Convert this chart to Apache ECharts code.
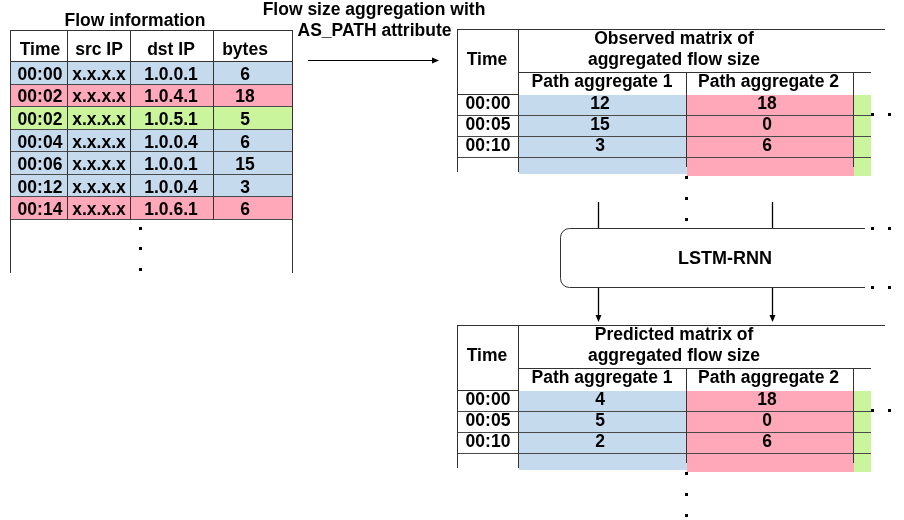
<!DOCTYPE html>
<html><head><meta charset="utf-8">
<script src="https://cdn.jsdelivr.net/npm/echarts@6/dist/echarts.min.js"></script>
<style>html,body{margin:0;padding:0;background:#fff}#c{width:904px;height:520px}</style>
</head><body><div id="c"></div>
<script>
// ---------------- data ----------------
const flowTitle = 'Flow information';
const flowHeaders = ['Time', 'src IP', 'dst IP', 'bytes'];
const flowTimes = ['00:00', '00:02', '00:02', '00:04', '00:06', '00:12', '00:14'];
const flowSrc = ['x.x.x.x', 'x.x.x.x', 'x.x.x.x', 'x.x.x.x', 'x.x.x.x', 'x.x.x.x', 'x.x.x.x'];
const flowDst = ['1.0.0.1', '1.0.4.1', '1.0.5.1', '1.0.0.4', '1.0.0.1', '1.0.0.4', '1.0.6.1'];
const flowBytes = [6, 18, 5, 6, 15, 3, 6];
const flowPathGroup = [1, 2, 3, 1, 1, 1, 2];

const aggTitle = ['Flow size aggregation with', 'AS_PATH attribute'];
const matrixTimeHeader = 'Time';
const matrixTimes = ['00:00', '00:05', '00:10'];
const pathHeaders = ['Path aggregate 1', 'Path aggregate 2'];
const observedTitle = ['Observed matrix of', 'aggregated flow size'];
const observedP1 = [12, 15, 3];
const observedP2 = [18, 0, 6];
const predictedTitle = ['Predicted matrix of', 'aggregated flow size'];
const predictedP1 = [4, 5, 2];
const predictedP2 = [18, 0, 6];
const modelName = 'LSTM-RNN';

// ---------------- styles / layout ----------------
const GROUP_COLORS = {1: '#c6daee', 2: '#ffa8ba', 3: '#caf59c'};
const LINE = '#333';
const ROWLINE = '#4a4a4a';
const FONT = 'bold 17.5px "Liberation Sans", Arial, Helvetica, sans-serif';
const FONT_BIG = 'bold 18px "Liberation Sans", Arial, Helvetica, sans-serif';

const FT = {cols: [10, 67, 130, 213, 292], textX: [40, 99, 171, 245], top: 30, headBottom: 61,
  rowH: 22.57, bottom: 273, headTextY: 50.5, textDy: 14, titleY: 21, titleX: 135, dotX: 140, dots: [228, 248, 269]};
const MX = {left: 457, timeR: 518, c1: 686, c2: 853, c3: 871, topR: 885,
  sub: 43, head: 65, rowH: 21, fillEndA: 144, fillEndB: 146, borderEnd: 143, sepEnd: 138,
  titleX: 674, t1: 10.5, t2: 31, subY: 53.5, timeX: 488, p1X: 600, p2X: 767,
  rdots: [872, 889], rdotY: 85, bdots: [148, 169, 190]};
const OBS_TOP = 29, PRED_TOP = 325;
const BOX = {l: 560, t: 228, b: 287, r: 865, rad: 9, a1: 598, a2: 772, upY: 202, arrowTip: 322};

const px = v => Math.round(v) + 0.5;
function hl(x1, x2, y, c) { return {type: 'line', z: 10, silent: true, shape: {x1: x1, y1: px(y), x2: x2, y2: px(y)}, style: {stroke: c || LINE, lineWidth: 1}}; }
function vl(x, y1, y2, c) { return {type: 'line', z: 10, silent: true, shape: {x1: px(x), y1: y1, x2: px(x), y2: y2}, style: {stroke: c || LINE, lineWidth: 1}}; }
function tx(text, x, y, font) {
  return {type: 'text', z: 11, silent: true, x: x, y: y,
    style: {text: String(text), font: font || FONT, fill: '#000', align: 'center', verticalAlign: 'middle', textAlign: 'center', textVerticalAlign: 'middle'}};
}
function dot(x, y) { return {type: 'rect', z: 11, silent: true, shape: {x: Math.round(x) - 1, y: Math.round(y) - 1, width: 3, height: 3}, style: {fill: '#000'}}; }

// ---------------- decoration (graphic) ----------------
const els = [];
// flow table frame
els.push(tx(flowTitle, FT.titleX, FT.titleY));
els.push(hl(FT.cols[0], FT.cols[4] + 1, FT.top));
els.push(hl(FT.cols[0], FT.cols[4] + 1, FT.headBottom));
els.push(vl(FT.cols[0], FT.top, FT.bottom));
els.push(vl(FT.cols[4], FT.top, FT.bottom));
for (let k = 1; k < 4; k++) els.push(vl(FT.cols[k], FT.top, FT.headBottom));
flowHeaders.forEach((h, k) => els.push(tx(h, FT.textX[k], FT.headTextY)));
FT.dots.forEach(y => els.push(dot(FT.dotX, y)));

// aggregation arrow
els.push(tx(aggTitle[0], 374, 10.5));
els.push(tx(aggTitle[1], 374.5, 31));
els.push({type: 'line', z: 10, silent: true, shape: {x1: 308, y1: 60.5, x2: 434, y2: 60.5}, style: {stroke: '#000', lineWidth: 1}});
els.push({type: 'polygon', z: 10, silent: true, shape: {points: [[439, 60.5], [432, 57.5], [432, 63.5]]}, style: {fill: '#000'}});

function matrixFrame(top, title) {
  els.push(hl(MX.left, MX.topR, top));
  els.push(vl(MX.left, top, top + MX.borderEnd));
  els.push(vl(MX.timeR, top, top + MX.borderEnd));
  els.push(hl(MX.timeR, MX.c3, top + MX.sub));
  els.push(vl(MX.c1, top + MX.sub, top + MX.sepEnd));
  els.push(vl(MX.c2, top + MX.sub, top + MX.sepEnd));
  els.push(hl(MX.left, MX.timeR, top + MX.head));
  els.push(tx(title[0], MX.titleX, top + MX.t1));
  els.push(tx(title[1], MX.titleX, top + MX.t2));
  els.push(tx(matrixTimeHeader, MX.timeX - 1, top + MX.t2));
  els.push(tx(pathHeaders[0], (MX.timeR + MX.c1) / 2, top + MX.subY));
  els.push(tx(pathHeaders[1], (MX.c1 + MX.c2) / 2 - 1, top + MX.subY));
  MX.rdots.forEach(x => els.push(dot(x, top + MX.rdotY)));
  MX.bdots.forEach(y => els.push(dot(MX.c1, top + y)));
}
matrixFrame(OBS_TOP, observedTitle);
matrixFrame(PRED_TOP, predictedTitle);

// LSTM box (open on the right, rounded on the left)
const r = BOX.rad;
const bl = BOX.l + 0.5, bt = BOX.t + 0.5, bb = BOX.b + 0.5;
els.push({type: 'line', z: 10, silent: true, shape: {x1: bl + r, y1: bt, x2: BOX.r, y2: bt}, style: {stroke: LINE, lineWidth: 1}});
els.push({type: 'line', z: 10, silent: true, shape: {x1: bl + r, y1: bb, x2: BOX.r, y2: bb}, style: {stroke: LINE, lineWidth: 1}});
els.push({type: 'line', z: 10, silent: true, shape: {x1: bl, y1: bt + r, x2: bl, y2: bb - r}, style: {stroke: LINE, lineWidth: 1}});
els.push({type: 'arc', z: 10, silent: true, shape: {cx: bl + r, cy: bt + r, r: r, startAngle: Math.PI, endAngle: Math.PI * 1.5, clockwise: true}, style: {stroke: LINE, fill: null, lineWidth: 1}});
els.push({type: 'arc', z: 10, silent: true, shape: {cx: bl + r, cy: bb - r, r: r, startAngle: Math.PI * 0.5, endAngle: Math.PI, clockwise: true}, style: {stroke: LINE, fill: null, lineWidth: 1}});
els.push(tx(modelName, 725, 259, FONT_BIG));
[BOX.a1, BOX.a2].forEach(x => {
  els.push({type: 'line', z: 10, silent: true, shape: {x1: x + 0.5, y1: BOX.upY, x2: x + 0.5, y2: BOX.t}, style: {stroke: '#000', lineWidth: 1.3}});
  els.push({type: 'line', z: 10, silent: true, shape: {x1: x + 0.5, y1: BOX.b + 1, x2: x + 0.5, y2: BOX.arrowTip - 5}, style: {stroke: '#000', lineWidth: 1.3}});
  els.push({type: 'polygon', z: 10, silent: true, shape: {points: [[x + 0.5, BOX.arrowTip], [x - 2.5, BOX.arrowTip - 7], [x + 3.5, BOX.arrowTip - 7]]}, style: {fill: '#000'}});
});
MX.rdots.forEach(x => { els.push(dot(x, BOX.t)); els.push(dot(x, BOX.b)); });

// ---------------- data rows (custom series on pixel-mapped axes) ----------------
function flowRow(params, api) {
  const i = api.value(0);
  const y0 = FT.headBottom + i * FT.rowH, y1 = y0 + FT.rowH;
  const a = api.coord([FT.cols[0], y0]), b = api.coord([FT.cols[4], y1]);
  const kids = [{type: 'rect', shape: {x: a[0], y: Math.round(a[1]) + 1, width: b[0] - a[0] + 1, height: Math.round(b[1]) - Math.round(a[1])}, style: {fill: GROUP_COLORS[flowPathGroup[i]]}}];
  for (let k = 1; k < 4; k++) {
    const c = api.coord([FT.cols[k], y0]);
    kids.push({type: 'line', shape: {x1: px(c[0]), y1: a[1], x2: px(c[0]), y2: b[1] + 1}, style: {stroke: LINE, lineWidth: 1}});
  }
  kids.push({type: 'line', shape: {x1: a[0], y1: px(b[1]), x2: b[0] + 1, y2: px(b[1])}, style: {stroke: ROWLINE, lineWidth: 1}});
  const vals = [flowTimes[i], flowSrc[i], flowDst[i], flowBytes[i]];
  vals.forEach((v, k) => {
    const p = api.coord([FT.textX[k], y0 + FT.textDy]);
    kids.push({type: 'text', x: p[0], y: p[1], style: {text: String(v), font: FONT, fill: '#000', align: 'center', verticalAlign: 'middle'}});
  });
  return {type: 'group', children: kids};
}

function matrixRenderer(top, p1, p2) {
  return function (params, api) {
    const i = api.value(0);
    const n = matrixTimes.length;
    const y0 = top + MX.head + i * MX.rowH, y1 = y0 + MX.rowH;
    const endA = (i === n - 1) ? top + MX.fillEndA : y1;
    const endB = (i === n - 1) ? top + MX.fillEndB : y1;
    const P = (x, y) => api.coord([x, y]);
    const cell = (xa, xb, ya, yb, fill) => {
      const a = P(xa, ya), b = P(xb, yb);
      return {type: 'rect', shape: {x: a[0], y: Math.round(a[1]) + 1, width: b[0] - a[0], height: Math.round(b[1]) - Math.round(a[1])}, style: {fill: fill}};
    };
    const kids = [
      cell(MX.timeR + 1, MX.c1 + 1, y0, endA, GROUP_COLORS[1]),
      cell(MX.c1 + 1, MX.c2 + 1, y0, endB, GROUP_COLORS[2]),
      cell(MX.c2 + 1, MX.c3, y0, endB, GROUP_COLORS[3])
    ];
    const l = P(MX.left, y1), rr = P(MX.c3, y1);
    kids.push({type: 'line', shape: {x1: l[0], y1: px(l[1]), x2: rr[0], y2: px(l[1])}, style: {stroke: ROWLINE, lineWidth: 1}});
    const cy = y0 + MX.rowH / 2 - 0.5;
    [[matrixTimes[i], MX.timeX], [p1[i], MX.p1X], [p2[i], MX.p2X]].forEach(([v, x]) => {
      const p = P(x, cy);
      kids.push({type: 'text', x: p[0], y: p[1], style: {text: String(v), font: FONT, fill: '#000', align: 'center', verticalAlign: 'middle'}});
    });
    return {type: 'group', children: kids};
  };
}

const chart = echarts.init(document.getElementById('c'));
chart.setOption({
  animation: false,
  backgroundColor: '#fff',
  grid: {left: 0, right: 0, top: 0, bottom: 0, containLabel: false},
  xAxis: {type: 'value', min: 0, max: 904, show: false},
  yAxis: {type: 'value', min: 0, max: 520, inverse: true, show: false},
  graphic: {elements: els},
  series: [
    {type: 'custom', name: 'Flow information', renderItem: flowRow, data: flowTimes.map((t, i) => [i]), silent: true, clip: false},
    {type: 'custom', name: 'Observed', renderItem: matrixRenderer(OBS_TOP, observedP1, observedP2), data: matrixTimes.map((t, i) => [i]), silent: true, clip: false},
    {type: 'custom', name: 'Predicted', renderItem: matrixRenderer(PRED_TOP, predictedP1, predictedP2), data: matrixTimes.map((t, i) => [i]), silent: true, clip: false}
  ]
});
</script>
</body></html>
